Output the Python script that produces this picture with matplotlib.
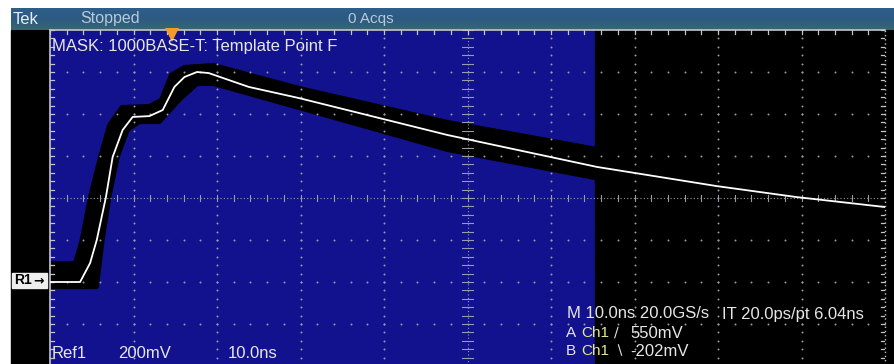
import numpy as np
import matplotlib
matplotlib.use('Agg')
import matplotlib.pyplot as plt
from matplotlib.patches import Rectangle, Polygon
from matplotlib.colors import LinearSegmentedColormap

# screen size in pixels
W, H = 894, 364

# white trace (Ref1), time in ns, level in mV
trace_t = [0, 3.6, 4.8, 5.6, 6.7, 7.5, 8.7, 9.9, 11.9, 13.5, 14.9, 16.1, 17.6, 19.0,
           23.8, 29.8, 47.6, 65.5, 79.8, 89.3, 100]
trace_v = [0, 0, 90, 200, 405, 595, 724, 786, 790, 819, 929, 976, 1000, 995,
           929, 876, 700, 548, 457, 405, 357]

# mask template (black band), upper/left and lower/right edges
mask_up_t = [0, 3.0, 3.8, 4.8, 6.0, 7.1, 8.6, 11.9, 13.3, 14.5, 16.1, 19.6, 29.8, 47.6, 65.3]
mask_up_v = [90, 90, 200, 405, 595, 748, 833, 838, 867, 986, 1024, 1033, 924, 762, 635]
mask_lo_t = [0, 5.6, 6.3, 7.1, 8.1, 9.3, 10.7, 13.1, 15.5, 17.6, 19.6, 29.8, 47.6, 65.3]
mask_lo_v = [-24, -24, 200, 405, 595, 724, 762, 762, 867, 943, 943, 829, 629, 495]

mask_end = 65.3      # end of the mask window (ns)
trig_t = 14.6        # trigger position marker (ns)

t_div, v_div = 10, 200
x_lim = (0, 100)
y_lim = (-400, 1200)


def fx(x):
    return x / W


def fy(y):
    return 1 - y / H


fig = plt.figure(figsize=(W / 100, H / 100), dpi=100)
fig.patch.set_facecolor('white')
plt.rcParams['font.family'] = ['Liberation Sans', 'DejaVu Sans']

# black screen background
fig.patches.append(Rectangle((fx(11), fy(364)), fx(894) - fx(11), fy(30) - fy(364),
                             transform=fig.transFigure, color='black', zorder=-5))

# header bar with a small gradient
hax = fig.add_axes([fx(11), fy(30), fx(894) - fx(11), fy(8) - fy(30)])
hax.set_zorder(1)
grad = np.linspace(0, 1, 50).reshape(-1, 1)
cm = LinearSegmentedColormap.from_list('hdr', ['#2f5e8a', '#2c5a82', '#37686f'])
hax.imshow(grad, aspect='auto', cmap=cm, extent=[0, 1, 0, 1], origin='upper')
hax.set_axis_off()

# graticule axes
ax = fig.add_axes([fx(50), fy(366), fx(885) - fx(50), fy(30) - fy(366)])
ax.set_zorder(2)
ax.set_facecolor('black')
ax.set_xlim(*x_lim)
ax.set_ylim(*y_lim)
ax.set_xticks([])
ax.set_yticks([])
for s in ax.spines.values():
    s.set_visible(False)

ax.axvspan(0, mask_end, color='#12128e', zorder=0)

# mask
poly_pts = list(zip(mask_up_t, mask_up_v)) + list(zip(mask_lo_t[::-1], mask_lo_v[::-1]))
ax.add_patch(Polygon(poly_pts, closed=True, facecolor='black', edgecolor='black',
                     lw=3, joinstyle='round', zorder=1))
# keep the mask inside the window
ax.axvspan(mask_end, x_lim[1], color='black', zorder=1.5)

# dotted grid
dot_c = '#9a9aa8'
xs_major = np.arange(x_lim[0], x_lim[1] + 1, t_div)
ys_major = np.arange(y_lim[0], y_lim[1] + 1, v_div)
ys_minor = np.arange(y_lim[0], y_lim[1] + 1, v_div / 5)
xs_minor = np.arange(x_lim[0], x_lim[1] + 0.01, t_div / 5)
for xv in xs_major[1:-1]:
    if xv == 50:
        continue
    ax.scatter(np.full(len(ys_minor), xv), ys_minor, s=2, color=dot_c, lw=0, zorder=2)
for yv in ys_major[1:-1]:
    if yv == 400:
        continue
    ax.scatter(xs_minor, np.full(len(xs_minor), yv), s=2, color=dot_c, lw=0, zorder=2)

# center cross
ax.plot(x_lim, [400, 400], color=dot_c, lw=0.8, ls=(0, (1, 2)), zorder=2)
ax.plot([50, 50], y_lim, color=dot_c, lw=0.8, ls=(0, (1, 2)), zorder=2)
for xv in xs_minor:
    ax.plot([xv, xv], [385, 415], color=dot_c, lw=0.8, zorder=2)
for yv in ys_minor:
    ax.plot([49.4, 50.6], [yv, yv], color=dot_c, lw=0.8, zorder=2)

# border with ticks
bc = '#c4c4cc'
ax.plot([0, 100], [y_lim[1], y_lim[1]], color=bc, lw=1.2, zorder=3, clip_on=False)
ax.plot([0, 0], y_lim, color=bc, lw=1.2, zorder=3, clip_on=False)
ax.plot([100, 100], y_lim, color=bc, lw=1.0, ls=(0, (1, 2)), zorder=3, clip_on=False)
for xv in xs_minor:
    ax.plot([xv, xv], [y_lim[1] - 20, y_lim[1]], color=bc, lw=0.9, zorder=3)
for yv in ys_minor:
    ax.plot([0, 0.5], [yv, yv], color=bc, lw=0.9, zorder=3)
    ax.plot([99.5, 100], [yv, yv], color=bc, lw=0.9, zorder=3)

# trace
ax.plot(trace_t, trace_v, color='white', lw=1.3, zorder=4, solid_joinstyle='round')

# trigger position marker
ax.plot(trig_t, 1175, marker='v', color='#f39a2a', markersize=10, markeredgewidth=0,
        clip_on=False, zorder=5)

# header texts
fs = 12
fig.text(fx(13), fy(19), 'Tek', color='#e8eef2', fontsize=12, va='center', zorder=10)
fig.text(fx(80), fy(19), 'Stopped', color='#b9c9d9', fontsize=11.5, va='center', zorder=10)
fig.text(fx(348), fy(19), '0 Acqs', color='#b9c9d9', fontsize=11, va='center', zorder=10)

# screen texts
tc = '#e6e6e6'
fig.text(fx(52), fy(47), 'MASK: 1000BASE-T: Template Point F', color=tc, fontsize=fs, va='center', zorder=10)
fig.text(fx(52), fy(354), 'Ref1', color=tc, fontsize=fs, va='center', zorder=10)
fig.text(fx(118), fy(354), '200mV', color=tc, fontsize=fs, va='center', zorder=10)
fig.text(fx(228), fy(354), '10.0ns', color=tc, fontsize=fs, va='center', zorder=10)

fig.text(fx(567), fy(314), 'M 10.0ns 20.0GS/s', color=tc, fontsize=fs, va='center', zorder=10)
fig.text(fx(722), fy(314), 'IT 20.0ps/pt 6.04ns', color=tc, fontsize=fs, va='center', zorder=10)
fig.text(fx(566), fy(333), 'A', color=tc, fontsize=11, va='center', zorder=10)
fig.text(fx(581), fy(333), 'Ch1', color='#e4e890', fontsize=11, va='center', zorder=10)
fig.text(fx(614), fy(333), '\u2215', color=tc, fontsize=10, va='center', family='DejaVu Sans', zorder=10)
fig.text(fx(630), fy(333), '550mV', color=tc, fontsize=fs, va='center', zorder=10)
fig.text(fx(566), fy(351), 'B', color=tc, fontsize=11, va='center', zorder=10)
fig.text(fx(581), fy(351), 'Ch1', color='#e4e890', fontsize=11, va='center', zorder=10)
fig.text(fx(614), fy(351), '\u2216', color=tc, fontsize=10, va='center', family='DejaVu Sans', zorder=10)
fig.text(fx(630), fy(351), '-202mV', color=tc, fontsize=fs, va='center', zorder=10)

# Ref1 ground marker
fig.patches.append(Rectangle((fx(12), fy(288)), fx(47) - fx(12), fy(273) - fy(288),
                             transform=fig.transFigure, color='#eeeeee', zorder=5))
fig.text(fx(14), fy(280.5), 'R1', color='black', fontsize=10, fontweight='bold',
         va='center', zorder=6)
fig.text(fx(33), fy(280.5), '\u2192', color='black', fontsize=9, fontweight='bold',
         va='center', family='DejaVu Sans', zorder=6)

fig.savefig('out.png', dpi=100, facecolor='white')
